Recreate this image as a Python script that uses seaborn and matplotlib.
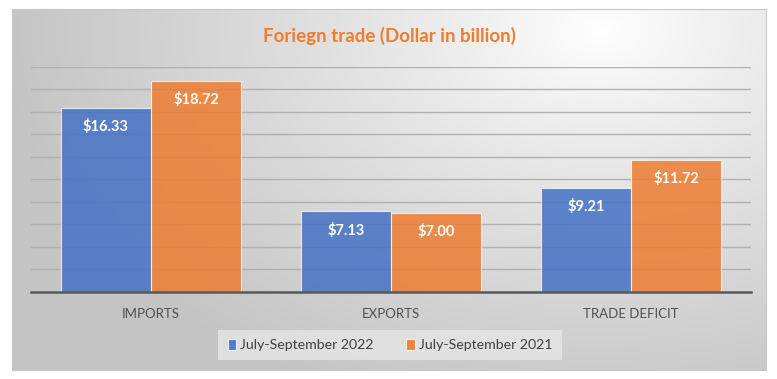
import numpy as np
import pandas as pd
import matplotlib
matplotlib.use("Agg")
import matplotlib.pyplot as plt
import seaborn as sns

categories = ["IMPORTS", "EXPORTS", "TRADE DEFICIT"]
series_names = ["July-September 2022", "July-September 2021"]
values_2022 = [16.33, 7.13, 9.21]
values_2021 = [18.72, 7.00, 11.72]
title = "Foriegn trade (Dollar in billion)"

df = pd.DataFrame({
    "category": categories * 2,
    "period": [series_names[0]] * 3 + [series_names[1]] * 3,
    "value": values_2022 + values_2021,
})

sns.set_theme(style="white")
plt.rcParams["font.family"] = ["Lato", "DejaVu Sans"]

W, H = 777, 379
fig = plt.figure(figsize=(W / 100, H / 100), dpi=100, facecolor="white")

# background panel with radial gradient
bx0, by0, bx1, by1 = 12, 9, 766, 370
bg = fig.add_axes([bx0 / W, 1 - by1 / H, (bx1 - bx0) / W, (by1 - by0) / H], zorder=0)
ny, nx = 200, 400
yy, xx = np.mgrid[0:ny, 0:nx]
px = xx / nx * (bx1 - bx0) + bx0
py = yy / ny * (by1 - by0) + by0
cx, cy = 600, 30
d = np.sqrt(((px - cx) / 600) ** 2 + ((py - cy) / 400) ** 2)
d = np.clip(d, 0, 1)
lum = 1.0 - 0.23 * d ** 0.85
img = np.dstack([lum, lum, lum])
bg.imshow(img, aspect="auto", extent=[0, 1, 0, 1], origin="upper")
bg.set_xlim(0, 1)
bg.set_ylim(0, 1)
bg.set_xticks([])
bg.set_yticks([])
for s in bg.spines.values():
    s.set_color("#c8c8c8")
    s.set_linewidth(0.8)

ax = fig.add_axes([31 / W, 1 - 291.7 / H, 720 / W, (291.7 - 66.7) / H], zorder=1)
ax.set_facecolor("none")

palette = {series_names[0]: "#4472C4", series_names[1]: "#ED7D31"}
sns.barplot(data=df, x="category", y="value", hue="period", order=categories,
            hue_order=series_names, palette=palette, width=0.75, alpha=0.85,
            edgecolor="#f4f4f4", linewidth=0.8, ax=ax, zorder=3, saturation=1)

ax.set_ylim(0, 20)
ax.set_xlim(-0.5, 2.5)
ax.set_yticks(np.arange(0, 21, 2))
ax.yaxis.grid(True, color="#b0b0b0", linewidth=1.0, zorder=0)
ax.set_axisbelow(True)
ax.tick_params(axis="y", left=False, labelleft=False)
ax.tick_params(axis="x", bottom=False, pad=6, labelsize=9.5, labelcolor="#505050")
ax.set_xlabel("")
ax.set_ylabel("")
for side in ["left", "right", "top"]:
    ax.spines[side].set_visible(False)
ax.spines["bottom"].set_color("#595959")
ax.spines["bottom"].set_linewidth(1.8)
ax.spines["bottom"].set_zorder(5)

for cont, vals in zip(ax.containers, [values_2022, values_2021]):
    ax.bar_label(cont, labels=[f"${v:.2f}" for v in vals], padding=-19,
                 color="white", fontsize=10.5, fontweight="bold")

leg = ax.legend(loc="center", bbox_to_anchor=((390 - 31) / 720, (291.7 - 345) / 225),
                ncol=2, frameon=True, fontsize=10.2, handlelength=0.6, handleheight=0.8,
                handletextpad=0.3, columnspacing=2.3, borderpad=0.65,
                facecolor="#e6e6e6", edgecolor="none", fancybox=False)
leg.get_frame().set_alpha(0.8)
for t in leg.get_texts():
    t.set_color("#404040")
for h in leg.legend_handles:
    h.set_alpha(0.9)

fig.text(389 / W, 1 - 36 / H, title, ha="center", va="center", fontsize=13.5,
         fontweight="bold", color="#ED7D31")

fig.savefig("out.png", dpi=100, facecolor="white")
